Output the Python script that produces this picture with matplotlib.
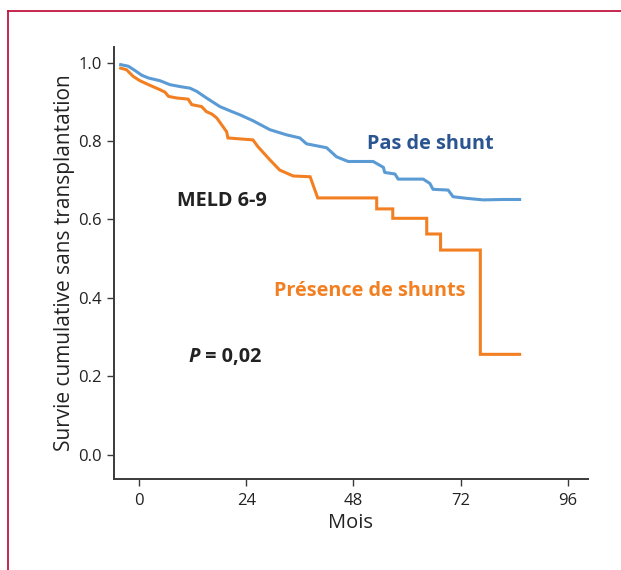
import matplotlib
matplotlib.use("Agg")
import matplotlib.pyplot as plt
from matplotlib.lines import Line2D

plt.rcParams['font.family'] = ['Open Sans', 'DejaVu Sans']

# Data (months, survival)
no_shunt_months = [-4.1, -2.4, -0.9, 0.6, 2.1, 4.7, 6.9, 9.2, 11.4, 12.9, 15.1, 18.1, 20.4,
                   22.6, 25.5, 29.3, 33.0, 36.0, 37.5, 42.0, 44.2, 46.8, 52.4, 54.7, 55.0,
                   57.3, 58.0, 63.6, 65.1, 65.8, 69.2, 70.3, 73.3, 77.0, 81.5, 85.2]
no_shunt_surv = [0.995, 0.991, 0.980, 0.968, 0.961, 0.954, 0.944, 0.939, 0.935, 0.927, 0.910,
                 0.888, 0.877, 0.867, 0.852, 0.829, 0.816, 0.808, 0.793, 0.783, 0.760, 0.748,
                 0.748, 0.733, 0.720, 0.716, 0.703, 0.703, 0.692, 0.677, 0.675, 0.658, 0.654,
                 0.650, 0.651, 0.651]

shunt_months = [-4.1, -2.8, -1.3, 0.2, 2.5, 4.7, 5.8, 6.6, 8.4, 11.0, 11.8, 14.0, 15.1, 16.3,
                17.4, 19.6, 19.9, 25.5, 26.6, 29.3, 31.5, 34.5, 38.3, 40.0, 53.2, 53.2,
                56.8, 56.8, 64.4, 64.4, 67.5, 67.5, 76.4, 76.4, 85.2]
shunt_surv = [0.986, 0.982, 0.965, 0.954, 0.942, 0.931, 0.925, 0.914, 0.910, 0.907, 0.893,
              0.888, 0.875, 0.869, 0.859, 0.824, 0.808, 0.803, 0.786, 0.752, 0.726, 0.711,
              0.709, 0.655, 0.655, 0.627, 0.627, 0.603, 0.603, 0.563, 0.563, 0.522, 0.522,
              0.256, 0.256]

x_ticks = [0, 24, 48, 72, 96]
y_ticks = [0.0, 0.2, 0.4, 0.6, 0.8, 1.0]

blue = '#5b9bd5'
orange = '#f28022'
dark_blue = '#2b5591'
axis_col = '#3a3a3a'
text_col = '#222222'

fig = plt.figure(figsize=(6.21, 5.70), dpi=100)
ax = fig.add_axes([114/621, 1 - 479/570, (588 - 114)/621, (479 - 47)/570])

ax.plot(no_shunt_months, no_shunt_surv, color=blue, lw=2.2, solid_joinstyle='round')
ax.plot(shunt_months, shunt_surv, color=orange, lw=2.2, solid_joinstyle='miter')

ax.set_xlim(-5.6, 100.5)
ax.set_ylim(-0.062, 1.04)
ax.set_xticks(x_ticks)
ax.set_xticklabels([str(v) for v in x_ticks])
ax.set_yticks(y_ticks)
ax.set_yticklabels([f"{v:.1f}" for v in y_ticks])

for s in ['top', 'right']:
    ax.spines[s].set_visible(False)
for s in ['left', 'bottom']:
    ax.spines[s].set_color(axis_col)
    ax.spines[s].set_linewidth(1.4)
ax.tick_params(axis='both', direction='out', length=5, width=1, color=axis_col,
               labelsize=12, labelcolor=text_col, pad=4)
ax.tick_params(axis='x', pad=5)

ax.set_xlabel('Mois', fontsize=14.5, color=text_col, labelpad=3)
ax.set_ylabel('Survie cumulative sans transplantation', fontsize=15, color=text_col,
              labelpad=2)

ax.text(65.1, 0.793, 'Pas de shunt', color=dark_blue, fontsize=14.3, fontweight='bold',
        ha='center', va='center')
ax.text(18.6, 0.648, 'MELD 6-9', color=text_col, fontsize=14.3, fontweight='bold',
        ha='center', va='center')
ax.text(51.7, 0.418, 'Présence de shunts', color=orange, fontsize=14.3, fontweight='bold',
        ha='center', va='center')
ax.text(13.6, 0.248, 'P', color=text_col, fontsize=14.3, fontweight='bold',
        fontstyle='italic', ha='right', va='center')
ax.text(13.6, 0.248, ' = 0,02', color=text_col, fontsize=14.3, fontweight='bold',
        ha='left', va='center')

# frame border
frame_col = '#c0163f'
fig.add_artist(Line2D([8/621, 8/621], [0, 1 - 11/570], transform=fig.transFigure,
                      color=frame_col, lw=1.3))
fig.add_artist(Line2D([8/621, 1], [1 - 11/570, 1 - 11/570], transform=fig.transFigure,
                      color=frame_col, lw=1.3))

fig.savefig('out.png', dpi=100)
